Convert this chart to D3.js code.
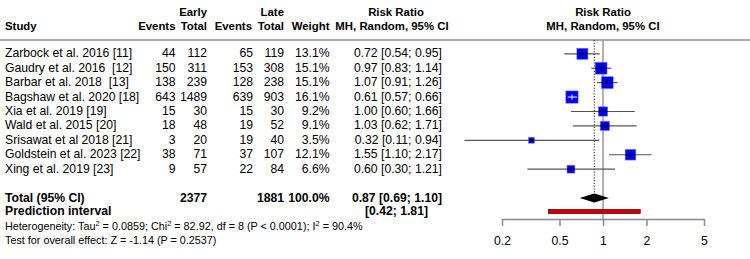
<!DOCTYPE html>
<html>
<head>
<meta charset="utf-8">
<script src="https://cdn.jsdelivr.net/npm/d3@7"></script>
<style>
  body { margin: 0; background: #fff; }
  svg { display: block; font-family: "Liberation Sans", Arial, Helvetica, sans-serif; }
</style>
</head>
<body>
<div id="chart"></div>
<script>
// study rows
const studies = [
    'Zarbock et al. 2016 [11]',
    'Gaudry et al. 2016  [12]',
    'Barbar et al. 2018  [13]',
    'Bagshaw et al. 2020 [18]',
    'Xia et al. 2019 [19]',
    'Wald et al. 2015 [20]',
    'Srisawat et al 2018 [21]',
    'Goldstein et al. 2023 [22]',
    'Xing et al. 2019 [23]'
];
const eventsEarly = [44, 150, 138, 643, 15, 18, 3, 38, 9];
const totalEarly = [112, 311, 239, 1489, 30, 48, 20, 71, 57];
const eventsLate = [65, 153, 128, 639, 15, 19, 19, 37, 22];
const totalLate = [119, 308, 238, 903, 30, 52, 40, 107, 84];
const weights = [13.1, 15.1, 15.1, 16.1, 9.2, 9.1, 3.5, 12.1, 6.6];
const rr = [0.72, 0.97, 1.07, 0.61, 1.00, 1.03, 0.32, 1.55, 0.60];
const lower = [0.54, 0.83, 0.91, 0.57, 0.60, 0.62, 0.11, 1.10, 0.30];
const upper = [0.95, 1.14, 1.26, 0.66, 1.66, 1.71, 0.94, 2.17, 1.21];

// pooled
const pooled = { totalEarly: 2377, totalLate: 1881, weight: 100.0, rr: 0.87, lo: 0.69, hi: 1.10 };
const predInterval = [0.42, 1.81];
const axisTicks = [0.2, 0.5, 1, 2, 5];

const width = 750, height = 259;
const fmt2 = d3.format('.2f');
const fmtW = d => d.toFixed(1) + '%';

const svg = d3.select('#chart').append('svg')
    .attr('width', width)
    .attr('height', height);

const x = d3.scaleLog().domain([0.2, 5]).range([502, 704]);
const rowY = i => 53.8 + i * 14.42;
const totalY = 198;
const predY = 211.5;
const fs = 12.2;   // body text
const hs = 11.4;   // bold headers

// column right edges
const cols = { evE: 175.5, totE: 207, evL: 253, totL: 284, w: 329.5, rr: 442 };

function txt(g, xx, yy, s, anchor, bold, size) {
    return g.append('text')
        .attr('x', xx)
        .attr('y', yy)
        .attr('text-anchor', anchor || 'start')
        .attr('font-size', size || fs)
        .attr('font-weight', bold ? 'bold' : 'normal')
        .attr('fill', '#000')
        .attr('xml:space', 'preserve')
        .style('white-space', 'pre')
        .text(s);
}

// headers
const hdr = svg.append('g');
txt(hdr, 5, 29.5, 'Study', 'start', true, hs);
txt(hdr, cols.totE, 15.5, 'Early', 'end', true, hs);
txt(hdr, cols.totL, 15.5, 'Late', 'end', true, hs);
txt(hdr, cols.evE, 29.5, 'Events', 'end', true, hs);
txt(hdr, cols.totE, 29.5, 'Total', 'end', true, hs);
txt(hdr, cols.evL - 1, 29.5, 'Events', 'end', true, hs);
txt(hdr, cols.totL, 29.5, 'Total', 'end', true, hs);
txt(hdr, cols.w, 29.5, 'Weight', 'end', true, hs);
txt(hdr, 396, 15.5, 'Risk Ratio', 'middle', true, hs);
txt(hdr, 392, 29.5, 'MH, Random, 95% CI', 'middle', true, hs);
txt(hdr, x(1), 15.5, 'Risk Ratio', 'middle', true, hs);
txt(hdr, x(1), 29.5, 'MH, Random, 95% CI', 'middle', true, hs);

svg.append('line')
    .attr('x1', 0).attr('x2', width)
    .attr('y1', 40).attr('y2', 40)
    .attr('stroke', '#8c8c8c')
    .attr('stroke-width', 1.5);

// table rows
const rows = svg.append('g');
studies.forEach((s, i) => {
    const yy = rowY(i) + 3.5;
    txt(rows, 5, yy, s);
    txt(rows, cols.evE, yy, eventsEarly[i], 'end');
    txt(rows, cols.totE, yy, totalEarly[i], 'end');
    txt(rows, cols.evL, yy, eventsLate[i], 'end');
    txt(rows, cols.totL, yy, totalLate[i], 'end');
    txt(rows, cols.w, yy, fmtW(weights[i]), 'end');
    txt(rows, cols.rr, yy, `${fmt2(rr[i])} [${fmt2(lower[i])}; ${fmt2(upper[i])}]`, 'end');
});

// total + prediction rows
txt(rows, 5, totalY + 3.5, 'Total (95% CI)', 'start', true);
txt(rows, cols.totE, totalY + 3.5, pooled.totalEarly, 'end', true);
txt(rows, cols.totL, totalY + 3.5, pooled.totalLate, 'end', true);
txt(rows, cols.w, totalY + 3.5, fmtW(pooled.weight), 'end', true);
txt(rows, cols.rr, totalY + 3.5, `${fmt2(pooled.rr)} [${fmt2(pooled.lo)}; ${fmt2(pooled.hi)}]`, 'end', true);
txt(rows, 5, predY + 3.5, 'Prediction interval', 'start', true);
txt(rows, 428, predY + 3.5, `[${fmt2(predInterval[0])}; ${fmt2(predInterval[1])}]`, 'end', true);

// heterogeneity lines (with superscripts)
const het = rows.append('text')
    .attr('x', 5).attr('y', 230)
    .attr('font-size', 10.8);
const parts = [
    ['Heterogeneity: Tau', false], ['2', true], [' = 0.0859; Chi', false], ['2', true],
    [' = 82.92, df = 8 (P < 0.0001); I', false], ['2', true], [' = 90.4%', false]
];
let raised = false;
parts.forEach(([t, sup]) => {
    het.append('tspan')
        .attr('font-size', sup ? 7.5 : 10.8)
        .attr('dy', sup ? -3.8 : (raised ? 3.8 : 0))
        .text(t);
    raised = sup;
});
txt(rows, 5, 244, 'Test for overall effect: Z = -1.14 (P = 0.2537)', 'start', false, 10.8);

// forest plot
const plot = svg.append('g');

// line of no effect
plot.append('line')
    .attr('x1', x(1)).attr('x2', x(1))
    .attr('y1', 40).attr('y2', 219)
    .attr('stroke', '#999')
    .attr('stroke-width', 1.5);

// pooled estimate (dotted)
plot.append('line')
    .attr('x1', x(pooled.rr)).attr('x2', x(pooled.rr))
    .attr('y1', 40).attr('y2', totalY - 4.5)
    .attr('stroke', '#000')
    .attr('stroke-width', 0.9)
    .attr('stroke-dasharray', '1.2,1.6');

// CI lines
plot.selectAll('line.ci').data(studies).enter().append('line')
    .attr('class', 'ci')
    .attr('x1', (d, i) => x(lower[i]))
    .attr('x2', (d, i) => x(upper[i]))
    .attr('y1', (d, i) => rowY(i))
    .attr('y2', (d, i) => rowY(i))
    .attr('stroke', '#555')
    .attr('stroke-width', 1.2);

// squares (area ~ weight)
const side = w => 3.05 * Math.sqrt(w);
plot.selectAll('rect.sq').data(studies).enter().append('rect')
    .attr('class', 'sq')
    .attr('x', (d, i) => x(rr[i]) - side(weights[i]) / 2)
    .attr('y', (d, i) => rowY(i) - side(weights[i]) / 2)
    .attr('width', (d, i) => side(weights[i]))
    .attr('height', (d, i) => side(weights[i]))
    .attr('fill', '#0000ff')
    .attr('stroke', '#6b6bff')
    .attr('stroke-width', 0.6);

// CI segment and point tick over the square
studies.forEach((d, i) => {
    const h = side(weights[i]) / 2;
    const inside = x(lower[i]) > x(rr[i]) - h && x(upper[i]) < x(rr[i]) + h;
    const c = inside ? '#fff' : '#000';
    plot.append('line')
        .attr('x1', Math.max(x(lower[i]), x(rr[i]) - h))
        .attr('x2', Math.min(x(upper[i]), x(rr[i]) + h))
        .attr('y1', rowY(i)).attr('y2', rowY(i))
        .attr('stroke', c).attr('stroke-width', 1);
    plot.append('line')
        .attr('x1', x(rr[i])).attr('x2', x(rr[i]))
        .attr('y1', rowY(i) - 2.5).attr('y2', rowY(i) + 2.5)
        .attr('stroke', c).attr('stroke-width', 1);
});

// diamond
plot.append('path')
    .attr('d', `M${x(pooled.lo)},${totalY} L${x(pooled.rr)},${totalY - 4.5} L${x(pooled.hi)},${totalY} L${x(pooled.rr)},${totalY + 4.5} Z`)
    .attr('fill', '#000');

// prediction interval
plot.append('rect')
    .attr('x', x(predInterval[0]))
    .attr('y', predY - 2)
    .attr('width', x(predInterval[1]) - x(predInterval[0]))
    .attr('height', 4)
    .attr('fill', '#cc0000')
    .attr('stroke', '#7a0000')
    .attr('stroke-width', 0.8);

// axis
const axis = d3.axisBottom(x)
    .tickValues(axisTicks)
    .tickFormat(d => d)
    .tickSize(7)
    .tickSizeOuter(0);
const ax = svg.append('g')
    .attr('transform', 'translate(0,219)')
    .call(axis);
ax.select('.domain').attr('stroke', '#888').attr('stroke-width', 1.5);
ax.selectAll('.tick line').attr('stroke', '#888').attr('stroke-width', 1.5);
ax.selectAll('.tick text')
    .attr('font-size', fs)
    .attr('font-family', '"Liberation Sans", Arial, sans-serif')
    .attr('fill', '#000')
    .attr('dy', null)
    .attr('y', 25.5);
</script>
</body>
</html>
